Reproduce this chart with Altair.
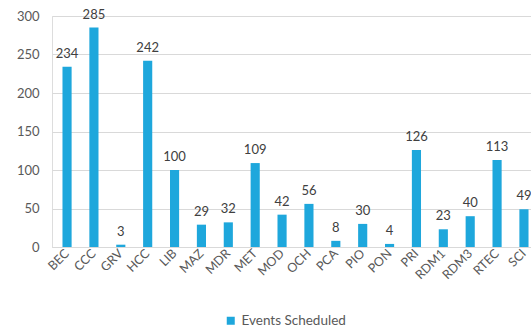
import altair as alt
import pandas as pd

# Events scheduled per site
sites = ["BEC", "CCC", "GRV", "HCC", "LIB", "MAZ", "MDR", "MET", "MOD",
         "OCH", "PCA", "PIO", "PON", "PRI", "RDM1", "RDM3", "RTEC", "SCI"]
events = [234, 285, 3, 242, 100, 29, 32, 109, 42,
          56, 8, 30, 4, 126, 23, 40, 113, 49]
series_name = "Events Scheduled"
y_ticks = [0, 50, 100, 150, 200, 250, 300]

df = pd.DataFrame({"site": sites, "events": events, "series": series_name})

FONT = "Lato"
BAR = "#1ea7dc"

x_enc = alt.X(
    "site:N",
    sort=sites,
    title=None,
    scale=alt.Scale(range=[0, 487], paddingInner=0.66, paddingOuter=0.39),
    axis=alt.Axis(
        labelAngle=-45,
        labelAlign="right",
        labelBaseline="middle",
        labelPadding=4,
        ticks=False,
        domainColor="#d9d9d9",
        labelColor="#595959",
        labelFont=FONT,
        labelFontSize=12.5,
        grid=False,
    ),
)
y_enc = alt.Y(
    "events:Q",
    title=None,
    scale=alt.Scale(domain=[0, 300], nice=False),
    axis=alt.Axis(
        values=y_ticks,
        ticks=False,
        domain=False,
        labelPadding=13,
        labelColor="#595959",
        labelFont=FONT,
        labelFontSize=13,
        gridColor="#d9d9d9",
    ),
)

bars = alt.Chart(df).mark_bar(color=BAR).encode(
    x=x_enc,
    y=y_enc,
    color=alt.Color(
        "series:N",
        scale=alt.Scale(range=[BAR]),
        legend=alt.Legend(
            title=None,
            orient="none",
            legendX=172,
            legendY=298,
            symbolType="square",
            symbolSize=64,
            symbolStrokeWidth=0,
            labelFont=FONT,
            labelFontSize=13.5,
            labelColor="#595959",
        ),
    ),
)

labels = alt.Chart(df).mark_text(
    baseline="bottom", dy=-6, font=FONT, fontSize=13, color="#404040"
).encode(
    x=x_enc,
    y=y_enc,
    text="events:Q",
)

chart = (
    alt.layer(bars, labels)
    .properties(
        width=479,
        height=231,
        autosize=alt.AutoSizeParams(type="none"),
        padding={"left": 52, "top": 16, "right": 0, "bottom": 81},
    )
    .configure_view(stroke=None)
    .configure(background="white")
)

chart.save("out.html", embed_options={"renderer": "svg", "actions": False})
